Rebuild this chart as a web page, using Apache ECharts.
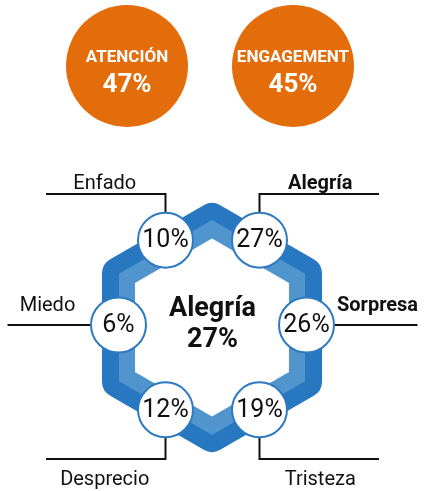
<!DOCTYPE html>
<html><head><meta charset="utf-8">
<script src="https://cdn.jsdelivr.net/npm/echarts@6/dist/echarts.min.js"></script>
<style>html,body{margin:0;padding:0;background:#fff}#c{width:425px;height:491px}</style>
</head><body><div id="c"></div>
<script>
// ---- data ----
const metricNames = ['ATENCIÓN', 'ENGAGEMENT'];
const metricValues = [47, 45];
const emotions = ['Enfado', 'Alegría', 'Sorpresa', 'Tristeza', 'Desprecio', 'Miedo'];
const emotionValues = [10, 27, 26, 19, 12, 6];
const emotionAngles = [120, 60, 0, -60, -120, 180];

// ---- layout / style ----
const W = 425, H = 491;
const FONT = 'Roboto';
const ORANGE = '#E36C0B', DARK = '#2878C1', LIGHT = '#5095CE', RIM = '#2E7AC2', INK = '#111';
const BADGE = { x0: 127, dx: 166, y: 66, size: 122 };
const HEX = { cx: 212, cy: 327.5, rBand: 108, bandWidth: 33, apLight: 93, apInner: 77 };
const RING = { cx: 212.5, cy: 325, rx: 94, ry: 98, r: 28 };
const LEAD = { up: 131, down: 134, horiz: 166.5, side: 205 };

const rad = d => d * Math.PI / 180;
const ranked = emotionValues.slice().sort((a, b) => b - a);
const topIdx = emotionValues.indexOf(ranked[0]);
const isBold = i => emotionValues[i] >= ranked[1];

const ringPos = emotions.map((n, i) => [
  RING.cx + RING.rx * Math.cos(rad(emotionAngles[i])),
  RING.cy - RING.ry * Math.sin(rad(emotionAngles[i]))
]);

const chart = echarts.init(document.getElementById('c'), null, { renderer: 'canvas' });

function hexPoints(api, cx, cy, R) {
  const pts = [];
  for (let k = 0; k < 6; k++) {
    const a = rad(90 - 60 * k);
    pts.push(api.coord([cx + R * Math.cos(a), cy - R * Math.sin(a)]));
  }
  return pts;
}

chart.setOption({
  animation: false,
  grid: { left: 0, right: 0, top: 0, bottom: 0 },
  xAxis: { type: 'value', min: 0, max: W, show: false },
  yAxis: { type: 'value', min: 0, max: H, inverse: true, show: false },
  series: [
    {
      type: 'scatter', name: 'metrics', symbolSize: BADGE.size,
      itemStyle: { color: ORANGE, opacity: 1 },
      data: metricNames.map((n, i) => ({ name: n, value: [BADGE.x0 + i * BADGE.dx, BADGE.y, metricValues[i]] })),
      label: {
        show: true, position: 'inside', offset: [0, 7],
        formatter: p => '{a|' + p.name + '}\n{b|' + p.value[2] + '%}',
        rich: {
          a: { fontFamily: FONT, fontWeight: 'bold', fontSize: 17, color: '#fff', lineHeight: 24, align: 'center' },
          b: { fontFamily: FONT, fontWeight: 'bold', fontSize: 26, color: '#fff', lineHeight: 31, align: 'center' }
        }
      }
    },
    {
      type: 'custom', name: 'hexagon', silent: true,
      data: [[HEX.cx, HEX.cy]],
      renderItem: (params, api) => {
        const cx = api.value(0), cy = api.value(1);
        const c30 = Math.cos(rad(30));
        return {
          type: 'group', children: [
            { type: 'polygon', shape: { points: hexPoints(api, cx, cy, HEX.rBand) },
              style: { fill: DARK, stroke: DARK, lineWidth: HEX.bandWidth, lineJoin: 'round' } },
            { type: 'polygon', shape: { points: hexPoints(api, cx, cy, HEX.apLight / c30) },
              style: { fill: LIGHT } },
            { type: 'polygon', shape: { points: hexPoints(api, cx, cy, HEX.apInner / c30) },
              style: { fill: '#fff' } }
          ]
        };
      }
    },
    {
      type: 'custom', name: 'leaders', silent: true,
      data: emotions.map((n, i) => ({ name: n, value: [ringPos[i][0], ringPos[i][1], emotionAngles[i], i] })),
      renderItem: (params, api) => {
        const x = api.value(0), y = api.value(1), ang = api.value(2), i = api.value(3);
        const cs = Math.cos(rad(ang)), sn = Math.sin(rad(ang));
        let pts, tx, ty;
        if (Math.abs(sn) < 0.01) {
          const d = cs > 0 ? 1 : -1;
          const x0 = x + d * RING.r, x1 = RING.cx + d * LEAD.side;
          pts = [[x0, y], [x1, y]];
          tx = (x0 + x1) / 2 + d * 1.5; ty = y - 19;
        } else {
          const up = sn > 0;
          const ly = up ? RING.cy - LEAD.up : RING.cy + LEAD.down;
          const d = cs > 0 ? 1 : -1;
          const x1 = RING.cx + d * LEAD.horiz;
          pts = [[x, up ? y - RING.r : y + RING.r], [x, ly], [x1, ly]];
          tx = (x + x1) / 2 + d * 1; ty = up ? ly - 10 : ly + 21;
        }
        const P = pts.map(p => api.coord(p));
        const T = api.coord([tx, ty]);
        return {
          type: 'group', children: [
            { type: 'polyline', shape: { points: P }, style: { stroke: INK, lineWidth: 2, fill: null } },
            { type: 'text', x: T[0], y: T[1], style: {
                text: emotions[i], fill: INK, fontFamily: FONT, fontSize: 20,
                fontWeight: isBold(i) ? 'bold' : 'normal', align: 'center', verticalAlign: 'middle' } }
          ]
        };
      }
    },
    {
      type: 'scatter', name: 'emotions', symbolSize: 55,
      itemStyle: { color: '#fff', borderColor: RIM, borderWidth: 2, opacity: 1 },
      data: emotions.map((n, i) => ({ name: n, value: [ringPos[i][0], ringPos[i][1], emotionValues[i]] })),
      label: {
        show: true, position: 'inside', formatter: p => p.value[2] + '%',
        fontFamily: FONT, fontSize: 25, color: INK, offset: [0, 1]
      }
    },
    {
      type: 'custom', name: 'dominant', silent: true,
      data: [[RING.cx, RING.cy, emotionValues[topIdx]]],
      renderItem: (params, api) => {
        const p1 = api.coord([api.value(0), api.value(1) - 16]);
        const p2 = api.coord([api.value(0), api.value(1) + 15]);
        const st = { fill: INK, fontFamily: FONT, fontSize: 27, fontWeight: 'bold', align: 'center', verticalAlign: 'middle' };
        return {
          type: 'group', children: [
            { type: 'text', x: p1[0], y: p1[1], style: Object.assign({ text: emotions[topIdx] }, st) },
            { type: 'text', x: p2[0], y: p2[1], style: Object.assign({ text: api.value(2) + '%' }, st) }
          ]
        };
      }
    }
  ]
});
</script>
</body></html>
